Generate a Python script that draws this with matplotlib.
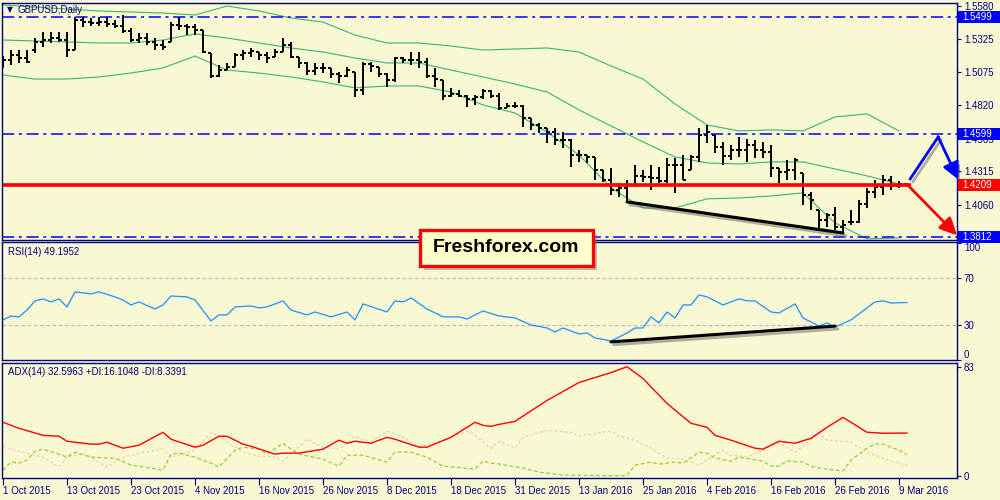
import numpy as np
import matplotlib.pyplot as plt
import matplotlib.patheffects as pe
from matplotlib.patches import Rectangle

plt.rcParams['font.family'] = ['Liberation Sans', 'DejaVu Sans']

bg = '#F8F8D2'
navy = '#000080'

# daily OHLC GBPUSD, 1 Oct 2015 .. 10 Mar 2016
opens = [1.5136, 1.5167, 1.5205, 1.5182, 1.5243, 1.5305, 1.5320, 1.5335, 1.5320, 1.5243,
         1.5473, 1.5457, 1.5450, 1.5457, 1.5442, 1.5427, 1.5389, 1.5320, 1.5335, 1.5305,
         1.5282, 1.5305, 1.5435, 1.5427, 1.5419, 1.5396, 1.5220, 1.5044, 1.5090, 1.5113,
         1.5205, 1.5220, 1.5228, 1.5205, 1.5190, 1.5228, 1.5282, 1.5190, 1.5144, 1.5083,
         1.5106, 1.5106, 1.5060, 1.5044, 1.5075, 1.4937, 1.5136, 1.5113, 1.5060, 1.5014,
         1.5182, 1.5167, 1.5167, 1.5152, 1.5044, 1.5014, 1.4891, 1.4907, 1.4891, 1.4869,
         1.4884, 1.4930, 1.4891, 1.4800, 1.4815, 1.4815, 1.4723, 1.4670, 1.4647, 1.4616,
         1.4555, 1.4555, 1.4440, 1.4440, 1.4425, 1.4325, 1.4249, 1.4173, 1.4188, 1.4211,
         1.4280, 1.4272, 1.4264, 1.4241, 1.4364, 1.4364, 1.4325, 1.4425, 1.4593, 1.4593,
         1.4502, 1.4433, 1.4479, 1.4479, 1.4517, 1.4479, 1.4463, 1.4341, 1.4310, 1.4325,
         1.4302, 1.4134, 1.4019, 1.3943, 1.3981, 1.3889, 1.3928, 1.3928, 1.4065, 1.4157,
         1.4195, 1.4249, 1.4203, 1.4218]
highs = [1.5197, 1.5243, 1.5243, 1.5243, 1.5335, 1.5381, 1.5381, 1.5381, 1.5381, 1.5496,
         1.5496, 1.5488, 1.5496, 1.5496, 1.5473, 1.5511, 1.5412, 1.5373, 1.5373, 1.5335,
         1.5320, 1.5457, 1.5496, 1.5442, 1.5442, 1.5396, 1.5220, 1.5129, 1.5144, 1.5220,
         1.5243, 1.5259, 1.5228, 1.5228, 1.5251, 1.5335, 1.5305, 1.5190, 1.5152, 1.5144,
         1.5144, 1.5106, 1.5075, 1.5113, 1.5075, 1.5152, 1.5152, 1.5113, 1.5067, 1.5190,
         1.5190, 1.5228, 1.5228, 1.5182, 1.5106, 1.5014, 1.4953, 1.4937, 1.4899, 1.4899,
         1.4945, 1.4937, 1.4914, 1.4838, 1.4846, 1.4823, 1.4723, 1.4685, 1.4647, 1.4647,
         1.4616, 1.4563, 1.4479, 1.4440, 1.4425, 1.4325, 1.4341, 1.4226, 1.4249, 1.4364,
         1.4325, 1.4364, 1.4348, 1.4417, 1.4417, 1.4440, 1.4440, 1.4647, 1.4670, 1.4593,
         1.4540, 1.4517, 1.4578, 1.4563, 1.4555, 1.4540, 1.4517, 1.4341, 1.4402, 1.4417,
         1.4302, 1.4157, 1.4019, 1.3996, 1.4042, 1.3943, 1.4019, 1.4096, 1.4188, 1.4249,
         1.4287, 1.4280, 1.4241, 1.4226]
lows = [1.5106, 1.5129, 1.5144, 1.5144, 1.5220, 1.5266, 1.5297, 1.5305, 1.5190, 1.5243,
        1.5419, 1.5427, 1.5427, 1.5419, 1.5412, 1.5373, 1.5305, 1.5297, 1.5282, 1.5243,
        1.5243, 1.5305, 1.5396, 1.5358, 1.5358, 1.5220, 1.5029, 1.5037, 1.5090, 1.5113,
        1.5167, 1.5190, 1.5167, 1.5144, 1.5190, 1.5228, 1.5182, 1.5106, 1.5052, 1.5052,
        1.5067, 1.5029, 1.4991, 1.5037, 1.4884, 1.4899, 1.5075, 1.5037, 1.4960, 1.4999,
        1.5144, 1.5129, 1.5106, 1.5029, 1.4960, 1.4861, 1.4884, 1.4884, 1.4807, 1.4823,
        1.4869, 1.4876, 1.4785, 1.4800, 1.4800, 1.4655, 1.4632, 1.4609, 1.4532, 1.4517,
        1.4494, 1.4348, 1.4387, 1.4379, 1.4249, 1.4234, 1.4134, 1.4119, 1.4081, 1.4195,
        1.4234, 1.4173, 1.4226, 1.4226, 1.4150, 1.4249, 1.4325, 1.4387, 1.4532, 1.4456,
        1.4364, 1.4402, 1.4425, 1.4387, 1.4417, 1.4417, 1.4272, 1.4226, 1.4249, 1.4249,
        1.4057, 1.4019, 1.3882, 1.3889, 1.3866, 1.3843, 1.3905, 1.3920, 1.4034, 1.4111,
        1.4134, 1.4173, 1.4188, 1.4203]
closes = [1.5167, 1.5205, 1.5182, 1.5152, 1.5305, 1.5320, 1.5335, 1.5320, 1.5243, 1.5473,
          1.5457, 1.5450, 1.5457, 1.5442, 1.5427, 1.5389, 1.5320, 1.5335, 1.5305, 1.5282,
          1.5266, 1.5435, 1.5427, 1.5419, 1.5396, 1.5228, 1.5044, 1.5090, 1.5113, 1.5205,
          1.5220, 1.5236, 1.5205, 1.5182, 1.5228, 1.5282, 1.5190, 1.5144, 1.5083, 1.5106,
          1.5106, 1.5060, 1.5044, 1.5090, 1.4937, 1.5136, 1.5121, 1.5060, 1.5014, 1.5182,
          1.5167, 1.5167, 1.5152, 1.5044, 1.5021, 1.4891, 1.4907, 1.4891, 1.4869, 1.4884,
          1.4930, 1.4891, 1.4800, 1.4815, 1.4815, 1.4723, 1.4670, 1.4647, 1.4616, 1.4555,
          1.4555, 1.4440, 1.4440, 1.4425, 1.4325, 1.4249, 1.4173, 1.4188, 1.4211, 1.4280,
          1.4272, 1.4264, 1.4241, 1.4364, 1.4364, 1.4249, 1.4425, 1.4593, 1.4616, 1.4502,
          1.4433, 1.4479, 1.4479, 1.4517, 1.4479, 1.4463, 1.4341, 1.4310, 1.4325, 1.4402,
          1.4134, 1.4096, 1.3943, 1.3981, 1.3889, 1.3905, 1.3928, 1.4065, 1.4157, 1.4195,
          1.4249, 1.4203, 1.4218, 1.4211]

# Bollinger bands (20), read every 4th bar
band_bars = list(range(0, 113, 4))
bb_upper = [1.5588, 1.5572, 1.5557, 1.5542, 1.5534, 1.5526, 1.5511, 1.5580, 1.5542, 1.5488,
            1.5457, 1.5358, 1.5297, 1.5297, 1.5274, 1.5243, 1.5251, 1.5259, 1.5228, 1.5121,
            1.5021, 1.4830, 1.4670, 1.4624, 1.4632, 1.4624, 1.4731, 1.4754, 1.4624]
bb_mid = [1.5320, 1.5312, 1.5305, 1.5297, 1.5297, 1.5320, 1.5366, 1.5335, 1.5297, 1.5259,
          1.5228, 1.5182, 1.5144, 1.5144, 1.5090, 1.5037, 1.4983, 1.4922, 1.4785, 1.4662,
          1.4540, 1.4425, 1.4379, 1.4371, 1.4387, 1.4387, 1.4333, 1.4280, 1.4218]
bb_lower = [1.5052, 1.5021, 1.5021, 1.5037, 1.5067, 1.5106, 1.5197, 1.5090, 1.5067, 1.5037,
            1.4999, 1.4953, 1.4968, 1.4968, 1.4922, 1.4823, 1.4761, 1.4616, 1.4440, 1.4188,
            1.4034, 1.4034, 1.4104, 1.4111, 1.4126, 1.4150, 1.3920, 1.3798, 1.3805]

levels = [1.5499, 1.4599, 1.3812]
red_level = 1.4209
price_ticks = [1.5580, 1.5325, 1.5075, 1.4820, 1.4565, 1.4315, 1.4060]

# RSI(14)
rsi_bars = [0, 1, 2, 3, 4, 5, 6, 7, 8, 9, 11, 12, 14, 15, 16, 17, 19, 20, 21, 23,
            24, 26, 27, 28, 29, 31, 32, 33, 35, 36, 38, 39, 41, 43, 44, 45, 48, 49, 50, 51,
            53, 55, 57, 58, 60, 62, 64, 66, 68, 69, 70, 72, 73, 74, 76, 78, 79, 80, 81, 82,
            83, 84, 85, 86, 87, 88, 90, 92, 93, 94, 96, 97, 99, 100, 102, 103, 104, 106, 108, 109,
            110, 111, 113]
rsi_vals = [34.3, 37.7, 36.9, 42.8, 50.6, 52.3, 49.7, 52.3, 45.4, 58.3, 56.6, 58.3, 54.0, 51.4, 47.1, 49.7, 43.7, 47.1, 54.8, 54.0,
            51.4, 33.4, 38.6, 38.6, 45.4, 46.3, 44.6, 45.4, 50.6, 42.8, 38.6, 41.1, 36.9, 41.1, 34.3, 48.0, 41.1, 50.6, 49.7, 53.1,
            43.7, 36.9, 36.9, 35.1, 42.0, 37.7, 36.0, 30.0, 27.4, 24.0, 27.4, 22.3, 23.1, 18.9, 16.3, 23.1, 27.4, 27.4, 36.9, 31.7,
            41.1, 36.0, 47.1, 47.1, 55.7, 54.0, 47.1, 52.3, 50.6, 50.6, 41.1, 40.3, 48.0, 36.0, 29.1, 31.7, 28.3, 34.3, 44.6, 49.7,
            50.6, 48.8, 49.2]

# ADX(14), +DI, -DI
adx_bars = [0, 2, 5, 7, 8, 11, 12, 13, 15, 17, 20, 21, 24, 25, 27, 28, 30, 31, 34, 35,
            37, 40, 42, 43, 44, 46, 48, 49, 52, 53, 56, 58, 59, 60, 61, 62, 64, 68, 72, 76,
            78, 80, 83, 86, 88, 89, 91, 94, 95, 97, 99, 101, 103, 105, 107, 108, 110, 113]
adx_vals = [40.8, 36.2, 30.9, 30.2, 26.4, 24.2, 24.2, 25.7, 21.1, 23.4, 33.2, 27.9, 21.9, 23.4, 30.2, 30.2, 24.2, 22.6, 16.6, 17.4,
            17.4, 20.4, 27.2, 24.9, 26.4, 24.9, 29.4, 27.9, 21.9, 21.9, 29.4, 37.0, 40.8, 38.5, 37.7, 39.2, 41.5, 57.4, 71.0, 78.5,
            83.0, 74.0, 55.1, 40.0, 37.0, 30.9, 27.2, 21.1, 20.4, 26.4, 24.9, 28.6, 37.0, 44.5, 37.0, 33.2, 32.5, 32.6]
pdi_bars = [0, 1, 2, 3, 4, 5, 7, 8, 9, 11, 14, 16, 20, 21, 22, 24, 26, 27, 29, 30,
            32, 33, 35, 36, 37, 40, 42, 43, 45, 48, 49, 51, 53, 55, 59, 60, 61, 62, 65, 67,
            70, 75, 78, 79, 81, 82, 84, 85, 87, 88, 89, 91, 92, 95, 96, 97, 98, 100, 101, 102,
            105, 106, 108, 109, 110, 112, 113]
pdi_vals = [4.5, 10.6, 9.8, 12.1, 18.9, 20.4, 16.6, 14.3, 18.1, 14.3, 13.6, 8.3, 4.5, 16.6, 17.4, 14.3, 9.8, 6.8, 19.6, 21.9,
            20.4, 16.6, 24.9, 20.4, 16.6, 12.8, 7.5, 15.8, 15.8, 10.6, 18.1, 18.1, 14.3, 7.5, 5.3, 11.3, 9.8, 9.1, 6.0, 3.0,
            0.8, 0.3, 0.3, 8.3, 10.6, 9.1, 10.6, 9.8, 18.1, 17.4, 13.6, 11.3, 14.3, 11.3, 7.5, 7.5, 11.3, 10.6, 7.5, 6.0,
            3.8, 12.1, 21.1, 24.2, 24.2, 19.6, 16.1]
mdi_bars = [0, 2, 5, 7, 8, 10, 13, 15, 17, 20, 21, 24, 26, 27, 30, 32, 34, 35, 38, 40,
            42, 44, 46, 48, 50, 52, 55, 58, 59, 61, 62, 64, 65, 68, 71, 72, 75, 76, 77, 79,
            81, 83, 85, 86, 87, 90, 91, 93, 95, 97, 99, 100, 102, 103, 106, 108, 110, 111, 113]
mdi_vals = [21.9, 18.9, 14.3, 6.8, 14.3, 17.4, 6.8, 14.3, 17.4, 20.4, 14.3, 19.6, 33.2, 30.2, 18.1, 15.1, 14.3, 11.3, 27.9, 21.9,
            20.4, 30.2, 25.7, 34.0, 29.4, 21.9, 27.2, 34.0, 30.9, 21.1, 26.4, 21.1, 29.4, 34.7, 33.2, 30.2, 33.2, 34.0, 30.2, 27.2,
            21.1, 13.6, 12.8, 10.6, 8.3, 19.6, 15.8, 14.3, 19.6, 24.9, 18.1, 22.6, 32.5, 27.2, 25.7, 18.1, 13.6, 11.3, 8.3]

date_bars = list(range(0, 113, 8))
date_labels = ['1 Oct 2015', '13 Oct 2015', '23 Oct 2015', '4 Nov 2015', '16 Nov 2015',
               '26 Nov 2015', '8 Dec 2015', '18 Dec 2015', '31 Dec 2015', '13 Jan 2016',
               '25 Jan 2016', '4 Feb 2016', '16 Feb 2016', '26 Feb 2016', '9 Mar 2016']

# drawn forecast / divergence lines
div_bars = [78, 105]
rsi_div_bars = [76, 104]
rsi_div_vals = [15.5, 29.0]
blue_path_bars = [113.4, 116.9, 119.4]
blue_path_price = [1.4257, 1.4578, 1.4252]
red_path_bars = [113.1, 119.2]
red_path_price = [red_level, 1.3828]

fig = plt.figure(figsize=(10, 5), dpi=100, facecolor=bg)
ax1 = fig.add_axes([0.002, 0.521, 0.955, 0.473])
ax2 = fig.add_axes([0.002, 0.280, 0.955, 0.236])
ax3 = fig.add_axes([0.002, 0.044, 0.955, 0.230])

xlim = (-0.125, 119.25)
for ax in (ax1, ax2, ax3):
    ax.set_facecolor(bg)
    ax.set_xlim(*xlim)
    for s in ax.spines.values():
        s.set_color(navy)
        s.set_linewidth(1.0)
    ax.tick_params(axis='y', left=False, labelleft=False, right=True, labelright=True,
                   direction='out', length=3, width=0.8, colors=navy, labelsize=7, pad=2)
    ax.tick_params(axis='x', bottom=False, labelbottom=False)

shadow = [pe.SimpleLineShadow(offset=(2, -2), shadow_color='#555555', alpha=0.45), pe.Normal()]

# ---- price panel ----
x = np.arange(len(opens))
ax1.set_ylim(1.3793, 1.5603)
ax1.plot(band_bars, bb_upper, color='#3CB371', lw=0.8)
ax1.plot(band_bars, bb_mid, color='#3CB371', lw=0.8)
ax1.plot(band_bars, bb_lower, color='#3CB371', lw=0.8)
ax1.vlines(x, lows, highs, color='black', lw=1.4)
ax1.hlines(opens, x - 0.42, x, color='black', lw=1.4)
ax1.hlines(closes, x, x + 0.42, color='black', lw=1.4)

for lv in levels:
    ax1.axhline(lv, color='#0000FF', lw=1.1, ls=(0, (8, 3, 2, 3)))
ax1.hlines(red_level, xlim[0], 113.5, color='#FF0000', lw=2.6)

ax1.plot(div_bars, [lows[i] for i in div_bars], color='black', lw=2.2,
         path_effects=shadow, solid_capstyle='round')

ax1.plot(blue_path_bars[:2], blue_path_price[:2], color='#0000FF', lw=2.0,
         path_effects=shadow, clip_on=False)
ax1.annotate('', xy=(blue_path_bars[2], blue_path_price[2]),
             xytext=(blue_path_bars[1], blue_path_price[1]),
             arrowprops=dict(arrowstyle='-|>,head_length=1.0,head_width=0.5', color='#0000FF',
                             lw=2.0, shrinkA=0, shrinkB=0,
                             path_effects=[pe.withSimplePatchShadow(offset=(2, -2), alpha=0.4)]),
             annotation_clip=False)
ax1.annotate('', xy=(red_path_bars[1], red_path_price[1]),
             xytext=(red_path_bars[0], red_path_price[0]),
             arrowprops=dict(arrowstyle='-|>,head_length=1.0,head_width=0.5', color='#FF0000',
                             lw=2.0, shrinkA=0, shrinkB=0,
                             path_effects=[pe.withSimplePatchShadow(offset=(2, -2), alpha=0.4)]),
             annotation_clip=False)

ax1.set_yticks(price_ticks)
ax1.set_yticklabels(['%.4f' % p for p in price_ticks])

ytr = ax1.get_yaxis_transform()
box_h = 0.0092
for lv, col in [(levels[0], '#0000FF'), (levels[1], '#0000FF'), (levels[2], '#0000FF'),
                (red_level, '#FF0000')]:
    ax1.add_patch(Rectangle((1.0015, lv - box_h / 2), 0.0445, box_h, transform=ytr,
                            facecolor=col, edgecolor='none', clip_on=False, zorder=6))
    ax1.text(1.006, lv, '%.4f' % lv, transform=ytr, color='white', fontsize=7,
             va='center', ha='left', zorder=7, clip_on=False)

# ---- RSI panel ----
ax2.set_ylim(0, 101)
ax2.axhline(70, color='#C0C0C0', lw=0.9, ls=(0, (3, 2)))
ax2.axhline(30, color='#C0C0C0', lw=0.9, ls=(0, (3, 2)))
ax2.plot(rsi_bars, rsi_vals, color='#1E90FF', lw=0.9)
ax2.plot(rsi_div_bars, rsi_div_vals, color='black', lw=2.2, path_effects=shadow,
         solid_capstyle='round')
ax2.set_yticks([0, 30, 70, 100])
ax2.set_yticklabels(['0', '30', '70', '100'])
for t in ax2.yaxis.get_major_ticks():
    v = t.get_loc()
    if v == 100:
        t.label2.set_va('top')
    elif v == 0:
        t.label2.set_va('bottom')

# ---- ADX panel ----
ax3.set_ylim(-1.5, 85.8)
ax3.plot(mdi_bars, mdi_vals, color='#F4C9A8', lw=0.9, ls=(0, (2, 2)))
ax3.plot(pdi_bars, pdi_vals, color='#9ACD32', lw=0.9, ls=(0, (3, 2)))
ax3.plot(adx_bars, adx_vals, color='#FF0000', lw=1.0)
ax3.set_yticks([0, 83])
ax3.set_yticklabels(['0', '83'])
ax3.set_xticks(date_bars)
ax3.set_xticklabels(date_labels, ha='left')
ax3.tick_params(axis='x', bottom=True, labelbottom=True, direction='out', length=5,
                width=0.8, colors=navy, labelsize=7, pad=1)

# ---- texts ----
fig.text(0.007, 1 - 10 / 500, '\u25BC', fontsize=5.5, color=navy, va='center',
         family=['DejaVu Sans'])
fig.text(0.018, 1 - 10 / 500, 'GBPUSD,Daily', fontsize=7, color=navy, va='center')
fig.text(0.008, 1 - 252 / 500, 'RSI(14) 49.1952', fontsize=7, color=navy, va='center')
fig.text(0.008, 1 - 372 / 500, 'ADX(14) 32.5963 +DI:16.1048 -DI:8.3391', fontsize=7,
         color=navy, va='center')

# logo box
fig.patches.append(Rectangle((0.424, 0.460), 0.173, 0.072, transform=fig.transFigure,
                             facecolor='#777777', alpha=0.45, edgecolor='none', zorder=8))
fig.patches.append(Rectangle((0.420, 0.468), 0.173, 0.072, transform=fig.transFigure,
                             facecolor='#FFFFCC', edgecolor='#FF0000', lw=2.4, zorder=9))
fig.text(0.5065, 0.504, 'Freshforex.com', fontsize=14, fontweight='bold', color='black',
         ha='center', va='center', zorder=10)

fig.savefig('out.png', dpi=100, facecolor=bg)
